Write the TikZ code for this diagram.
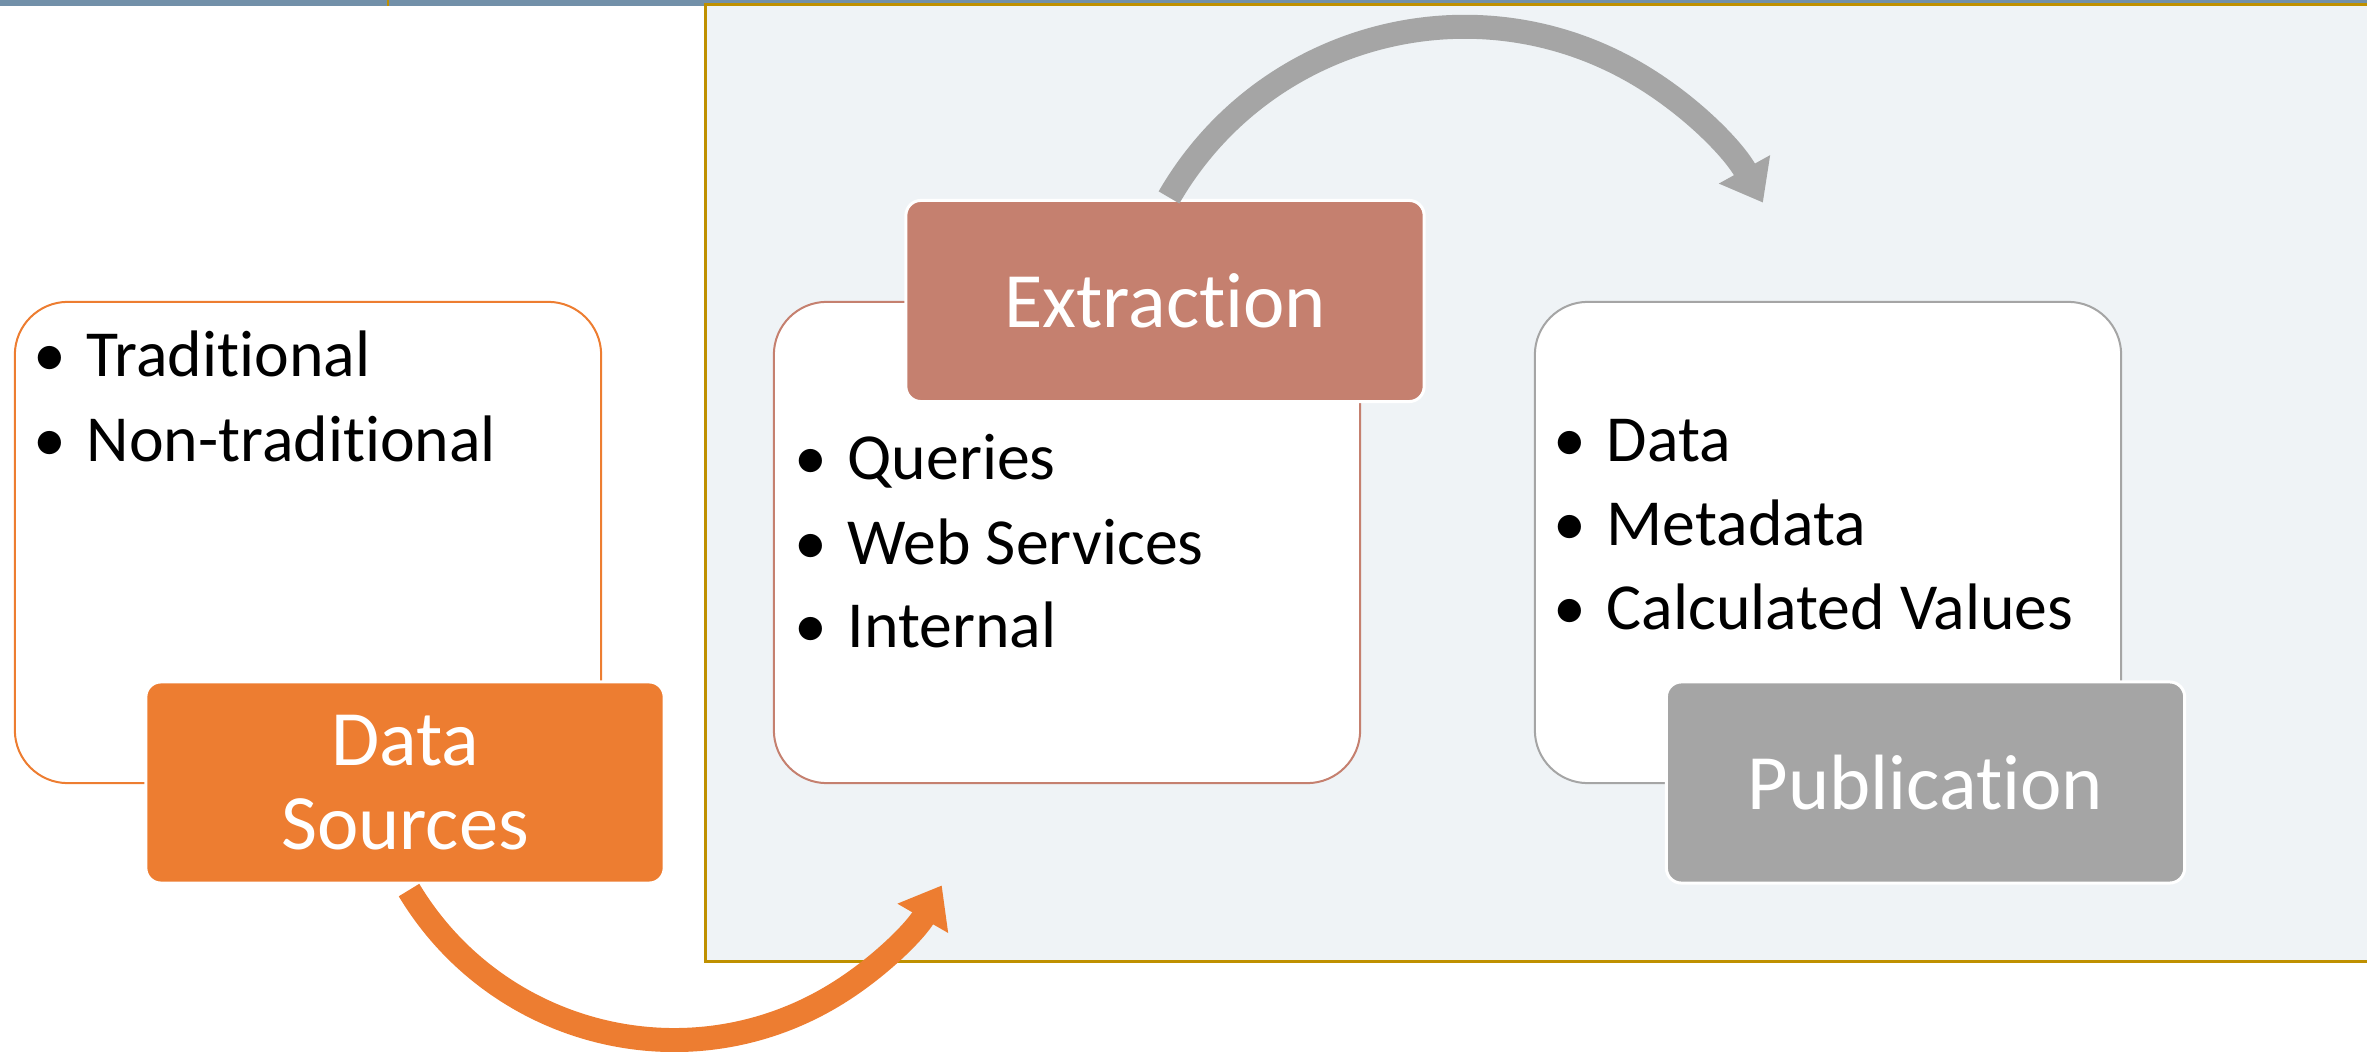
\documentclass[tikz,border=0pt]{standalone}
\usepackage{fontspec}
\setmainfont{Carlito}[RawFeature={-liga;-clig;-calt;-dlig}]
\usetikzlibrary{arrows.meta}
\definecolor{dsorange}{HTML}{ED7D31}
\definecolor{exbrick}{HTML}{C5806F}
\definecolor{pubgray}{HTML}{A5A5A5}
\definecolor{framegold}{HTML}{BF9000}
\definecolor{framefill}{HTML}{EFF3F6}
\definecolor{bandblue}{HTML}{7290A9}
\newcommand{\bitem}[1]{\llap{\textbullet\hspace{0.2cm}}#1}

\begin{document}
\begin{tikzpicture}[x=0.01cm,y=0.01cm,
    listbox/.style={draw, fill=white, line width=0.02cm, rounded corners=0.53cm,
      minimum width=5.86cm, minimum height=4.81cm, inner sep=0pt},
    tagbox/.style={draw=white, line width=0.03cm, rounded corners=0.15cm,
      minimum width=5.18cm, minimum height=2.01cm, inner sep=0pt, text=white,
      align=center, font=\fontsize{22.3}{23.8}\selectfont},
    listline/.style={anchor=base west, inner sep=0pt, font=\fontsize{18.7}{22}\selectfont},
    arcarrow/.style={line width=0.24cm, -{Triangle[length=0.38cm,width=0.56cm]}}]
  \useasboundingbox (0,0) rectangle (2367,1051);
  % band and frame
  \fill[bandblue] (0,1045) rectangle (2367,1051);
  \draw[framegold, line width=0.03cm, fill=framefill] (705.5,89.5) rectangle (2400,1046.3);
  \draw[framegold, line width=0.015cm] (388,1045) -- (388,1051);
  % boxes
  \node[listbox, draw=dsorange] (dsbox) at (308,508.5) {};
  \node[listbox, draw=exbrick] (exbox) at (1067,508.5) {};
  \node[listbox, draw=pubgray] (pubbox) at (1828,508.5) {};
  % lists
  \node[listline] (ds1) at (86,674) {\bitem{Traditional}};
  \node[listline] (ds2) at (86,589) {\bitem{Non-traditional}};
  \node[listline] (ex1) at (847,571) {\bitem{Queries}};
  \node[listline] (ex2) at (847,487) {\bitem{Web Services}};
  \node[listline] (ex3) at (847,404) {\bitem{Internal}};
  \node[listline] (pub1) at (1606,589) {\bitem{Data}};
  \node[listline] (pub2) at (1606,505) {\bitem{Metadata}};
  \node[listline] (pub3) at (1606,422) {\bitem{Calculated Values}};
  % labels
  \node[tagbox, fill=dsorange] (dslabel) at (405,268.5) {Data\\Sources};
  \node[tagbox, fill=exbrick] (exlabel) at (1165,750) {Extraction};
  \node[tagbox, fill=pubgray] (publabel) at (1925.5,268.5) {Publication};
  % arrows
  \draw[arcarrow, dsorange] ([shift={(4,-5.5)}]dslabel.south)
    arc[start angle=211, end angle=330, radius=3.09cm];
  \draw[arcarrow, pubgray] ([shift={(4,1.5)}]exlabel.north)
    arc[start angle=150, end angle=29, radius=3.41cm];
\end{tikzpicture}
\end{document}
